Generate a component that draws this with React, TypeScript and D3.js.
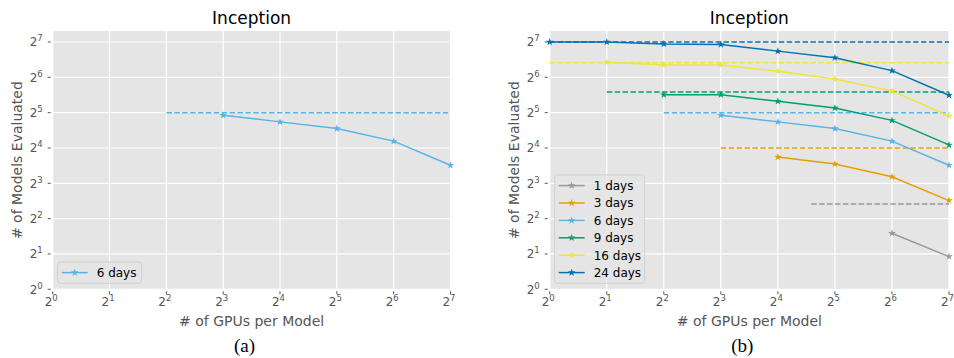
import React from "react";
import * as d3 from "d3";

const gpus = [1, 2, 4, 8, 16, 32, 64, 128];
const dayLabels = ["1 days", "3 days", "6 days", "9 days", "16 days", "24 days"];
const colors = ["#999999", "#E69F00", "#56B4E9", "#009E73", "#F0E442", "#0072B2"];
const evaluated1 = [null, null, null, null, null, null, 3.0, 1.9];
const evaluated3 = [null, null, null, null, 13.4, 11.7, 9.1, 5.7];
const evaluated6 = [null, null, null, 30.4, 26.7, 23.4, 18.3, 11.4];
const evaluated9 = [null, null, 45.5, 45.5, 40, 35, 27.5, 17];
const evaluated16 = [null, 86, 81.5, 81.5, 72, 62, 49, 30];
const evaluated24 = [128, 128, 123, 122, 107, 94, 73, 45];
const idealValues = [5.33, 16, 32, 48, 85.3, 128];
const idealStart = [24, 8, 4, 2, 1, 1];
const tickExps = [0, 1, 2, 3, 4, 5, 6, 7];

const allSeries = [evaluated1, evaluated3, evaluated6, evaluated9, evaluated16, evaluated24];

type PanelProps = {
  left: number;
  right: number;
  series: number[];
  legendWidth: number;
  caption: string;
};

const TOP = 31;
const BOTTOM = 289.3;
const GREY = "#555555";
const FONT = "'DejaVu Sans', sans-serif";

function Panel({ left, right, series, legendWidth, caption }: PanelProps) {
  const x = d3.scaleLog().base(2).domain([1, 128]).range([left, right]);
  const y = d3.scaleLog().base(2).domain([1, 158.8]).range([BOTTOM, TOP]);
  const line = d3
    .line<[number, number | null]>()
    .defined((d) => d[1] != null)
    .x((d) => x(d[0]))
    .y((d) => y(d[1] as number));
  const star = d3.symbol().type(d3.symbolStar).size(18);
  const cx = (left + right) / 2;
  const rowH = 17.4;
  const legH = series.length * rowH + 4;
  const legX = left + 5;
  const legY = BOTTOM - 6 - legH;

  return (
    <g>
      <rect x={left} y={TOP} width={right - left} height={BOTTOM - TOP} fill="#E5E5E5" />
      {tickExps.map((e) => (
        <g key={"g" + e}>
          <line x1={x(2 ** e)} x2={x(2 ** e)} y1={TOP} y2={BOTTOM} stroke="#FFFFFF" strokeWidth={1.2} />
          <line x1={left} x2={right} y1={y(2 ** e)} y2={y(2 ** e)} stroke="#FFFFFF" strokeWidth={1.2} />
          <line x1={left - 5} x2={left - 2} y1={y(2 ** e)} y2={y(2 ** e)} stroke={GREY} strokeWidth={1} />
          <line x1={x(2 ** e)} x2={x(2 ** e)} y1={BOTTOM + 2} y2={BOTTOM + 5} stroke={GREY} strokeWidth={1} />
          <text x={left - 10} y={y(2 ** e) + 4.5} textAnchor="end" fontFamily={FONT} fontSize={12} fill={GREY}>
            <tspan>2</tspan>
            <tspan dy={-5} fontSize={8.5}>{e}</tspan>
          </text>
          <text x={x(2 ** e) - 1.5} y={BOTTOM + 16.5} textAnchor="middle" fontFamily={FONT} fontSize={12} fill={GREY}>
            <tspan>2</tspan>
            <tspan dy={-5} fontSize={8.5}>{e}</tspan>
          </text>
        </g>
      ))}
      {series.map((s) => (
        <line
          key={"ideal" + s}
          x1={x(idealStart[s])}
          x2={x(128)}
          y1={y(idealValues[s])}
          y2={y(idealValues[s])}
          stroke={colors[s]}
          strokeWidth={1.5}
          strokeDasharray="5.5,2.4"
        />
      ))}
      {series.map((s) => {
        const pts = gpus.map((g, i) => [g, allSeries[s][i]] as [number, number | null]);
        return (
          <g key={"s" + s}>
            <path d={line(pts) || ""} fill="none" stroke={colors[s]} strokeWidth={1.5} />
            {pts
              .filter((p) => p[1] != null)
              .map((p, i) => (
                <path
                  key={i}
                  d={star() || ""}
                  transform={`translate(${x(p[0])},${y(p[1] as number)})`}
                  fill={colors[s]}
                />
              ))}
          </g>
        );
      })}
      <rect
        x={legX}
        y={legY}
        width={legendWidth}
        height={legH}
        rx={3}
        fill="#E5E5E5"
        fillOpacity={0.8}
        stroke="#CCCCCC"
        strokeWidth={0.8}
      />
      {series.map((s, i) => {
        const ry = legY + 2 + rowH * (i + 0.5);
        return (
          <g key={"l" + s}>
            <line x1={legX + 4} x2={legX + 30} y1={ry} y2={ry} stroke={colors[s]} strokeWidth={1.5} />
            <path d={star() || ""} transform={`translate(${legX + 17},${ry})`} fill={colors[s]} />
            <text x={legX + 39} y={ry + 4.3} fontFamily={FONT} fontSize={12} fill="#000000">
              {dayLabels[s]}
            </text>
          </g>
        );
      })}
      <text x={cx} y={23.5} textAnchor="middle" fontFamily={FONT} fontSize={17} fill="#000000">
        Inception
      </text>
      <text x={cx} y={326} textAnchor="middle" fontFamily={FONT} fontSize={14} fill={GREY}>
        # of GPUs per Model
      </text>
      <text
        transform={`translate(${left - 30.5},${(TOP + BOTTOM) / 2}) rotate(-90)`}
        textAnchor="middle"
        fontFamily={FONT}
        fontSize={14}
        fill={GREY}
      >
        # of Models Evaluated
      </text>
      <text x={cx - 7} y={352} textAnchor="middle" fontFamily="'Liberation Serif', 'Times New Roman', serif" fontSize={19} fill="#000000">
        {caption}
      </text>
    </g>
  );
}

export default function App() {
  return (
    <svg
      width={954}
      height={358}
      style={{ position: "absolute", left: 0, top: 0, background: "#FFFFFF" }}
    >
      <rect width={954} height={358} fill="#FFFFFF" />
      <Panel left={52.7} right={450.5} series={[2]} legendWidth={84} caption="(a)" />
      <Panel left={549.7} right={949} series={[0, 1, 2, 3, 4, 5]} legendWidth={90} caption="(b)" />
    </svg>
  );
}
